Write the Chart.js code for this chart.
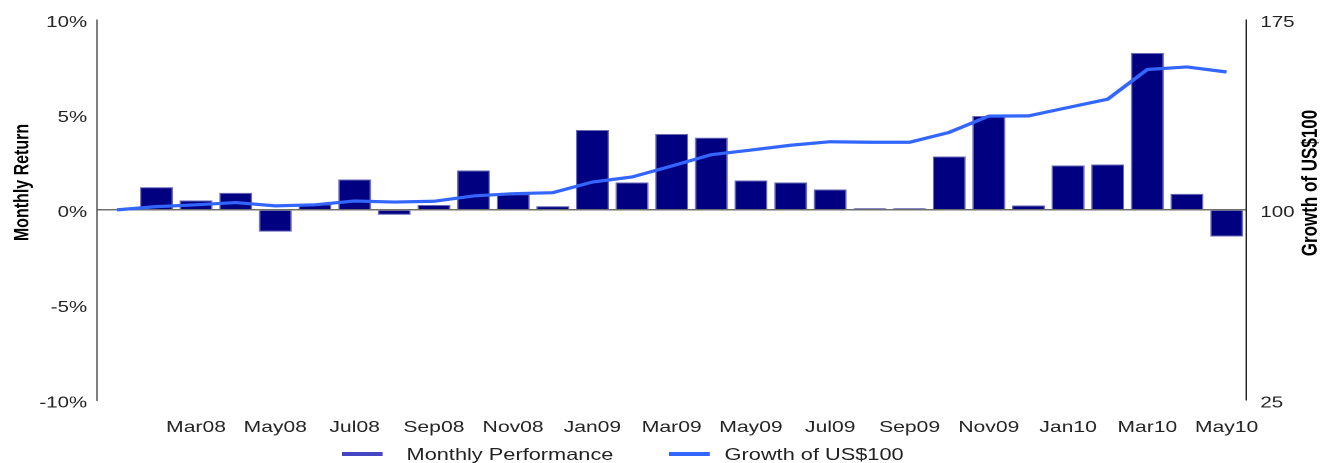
<!DOCTYPE html>
<html>
<head>
<meta charset="utf-8">
<script src="https://cdn.jsdelivr.net/npm/chart.js@4.4.1/dist/chart.umd.min.js"></script>
<style>
  html, body { margin: 0; padding: 0; background: #fff; overflow: hidden; }
  #wrap { position: absolute; left: 0; top: 0; width: 1002px; height: 463px;
          transform: scaleX(1.3194); transform-origin: 0 0; }
  canvas { display: block; }
  .sw { position: absolute; height: 4.5px; }
  .lt { position: absolute; font-family: 'Liberation Sans', Arial, sans-serif; font-size: 16.5px;
        line-height: 16.5px; color: #222; white-space: nowrap; }
</style>
</head>
<body>
<div id="wrap">
  <canvas id="c" width="1002" height="463"></canvas>
  <div id="legend"></div>
</div>
<script>
// ---- data ----
const months = ['Jan08','Feb08','Mar08','Apr08','May08','Jun08','Jul08','Aug08','Sep08','Oct08','Nov08','Dec08',
                'Jan09','Feb09','Mar09','Apr09','May09','Jun09','Jul09','Aug09','Sep09','Oct09','Nov09','Dec09',
                'Jan10','Feb10','Mar10','Apr10','May10'];
const monthlyReturn = [null, 1.2, 0.5, 0.9, -1.15, 0.3, 1.6, -0.26, 0.26, 2.08, 0.83, 0.2,
                       4.2, 1.45, 4.0, 3.8, 1.55, 1.45, 1.08, 0.09, 0.09, 2.81, 4.94, 0.24,
                       2.34, 2.39, 8.26, 0.85, -1.4];
const growth = [100, 101.3, 102.0, 102.9, 101.6, 102.0, 103.5, 103.1, 103.4, 105.5, 106.4, 106.8,
                111.0, 113.0, 117.3, 121.8, 123.6, 125.5, 126.9, 126.7, 126.7, 130.6, 137.0, 137.1,
                140.4, 143.7, 155.4, 156.4, 154.4];
const seriesNames = ['Monthly Performance', 'Growth of US$100'];
const leftTitle = 'Monthly Return';
const rightTitle = 'Growth of US$100';
const leftTicks = [-10, -5, 0, 5, 10];
const rightTicks = [25, 100, 175];

const FONT = "'Liberation Sans', Arial, sans-serif";

const titlePlugin = {
  id: 'axisTitles',
  afterDraw(chart) {
    const ctx = chart.ctx;
    ctx.save();
    ctx.fillStyle = '#000';
    ctx.textAlign = 'center';
    ctx.textBaseline = 'middle';
    ctx.font = 'bold 16px ' + FONT;
    ctx.translate(17, 182.5);
    ctx.rotate(-Math.PI / 2);
    ctx.fillText(leftTitle, 0, 0);
    ctx.restore();
    ctx.save();
    ctx.fillStyle = '#000';
    ctx.textAlign = 'center';
    ctx.textBaseline = 'middle';
    ctx.font = 'bold 17px ' + FONT;
    ctx.translate(993.4, 183);
    ctx.rotate(-Math.PI / 2);
    ctx.fillText(rightTitle, 0, 0);
    ctx.restore();
  }
};

const chart = new Chart(document.getElementById('c'), {
  data: {
    labels: months,
    datasets: [
      { type: 'line', label: seriesNames[1], data: growth, yAxisID: 'y1', order: 0,
        borderColor: '#3366ff', borderWidth: 3.2, pointRadius: 0, tension: 0, fill: false },
      { type: 'bar', label: seriesNames[0], data: monthlyReturn, yAxisID: 'y', order: 1,
        backgroundColor: '#000080', borderColor: '#6a6ab8', borderWidth: 1,
        barPercentage: 0.833, categoryPercentage: 1.0 }
    ]
  },
  options: {
    responsive: false,
    animation: false,
    devicePixelRatio: 2,
    layout: { padding: { top: 19, left: 0, right: 0, bottom: 0 } },
    plugins: { legend: { display: false }, tooltip: { enabled: false } },
    scales: {
      x: {
        offset: true,
        grid: { display: false },
        border: { display: false },
        ticks: {
          autoSkip: false, maxRotation: 0, minRotation: 0, padding: 10,
          color: '#222', font: { family: FONT, size: 16 },
          callback: (v, i) => (i > 0 && i % 2 === 0) ? months[i] : ''
        },
        afterFit: s => { s.height = 63; }
      },
      y: {
        position: 'left', min: -10, max: 10,
        afterBuildTicks: s => { s.ticks = leftTicks.map(v => ({ value: v })); },
        grid: { drawTicks: false, lineWidth: 1.5,
                color: c => (c.tick && c.tick.value === 0) ? '#707070' : 'rgba(0,0,0,0)' },
        border: { display: true, color: '#555', width: 1 },
        ticks: { padding: 7.5, labelOffset: 3, color: '#222', font: { family: FONT, size: 15.5 },
                 callback: v => v + '%' },
        afterFit: s => { s.width = 73.5; }
      },
      y1: {
        position: 'right', min: 25, max: 175,
        afterBuildTicks: s => { s.ticks = rightTicks.map(v => ({ value: v })); },
        grid: { display: false, drawTicks: false },
        border: { display: true, color: '#222', width: 1 },
        ticks: { padding: 10.5, labelOffset: 3, color: '#222', font: { family: FONT, size: 15.5 } },
        afterFit: s => { s.width = 1002 - 944.7; }
      }
    }
  },
  plugins: [titlePlugin]
});

// legend (HTML, real text) built from dataset labels
const legend = document.getElementById('legend');
const legItems = [
  { name: seriesNames[0], color: '#4646c4', sx: 258.9, tx: 308.1 },
  { name: seriesNames[1], color: '#3366ff', sx: 506.8, tx: 549.2 }
];
legItems.forEach(it => {
  const sw = document.createElement('div');
  sw.className = 'sw';
  sw.style.left = it.sx + 'px'; sw.style.top = '451.7px'; sw.style.width = '31px';
  sw.style.background = it.color;
  legend.appendChild(sw);
  const t = document.createElement('div');
  t.className = 'lt';
  t.style.left = it.tx + 'px'; t.style.top = '446px';
  t.textContent = it.name;
  legend.appendChild(t);
});
</script>
</body>
</html>
